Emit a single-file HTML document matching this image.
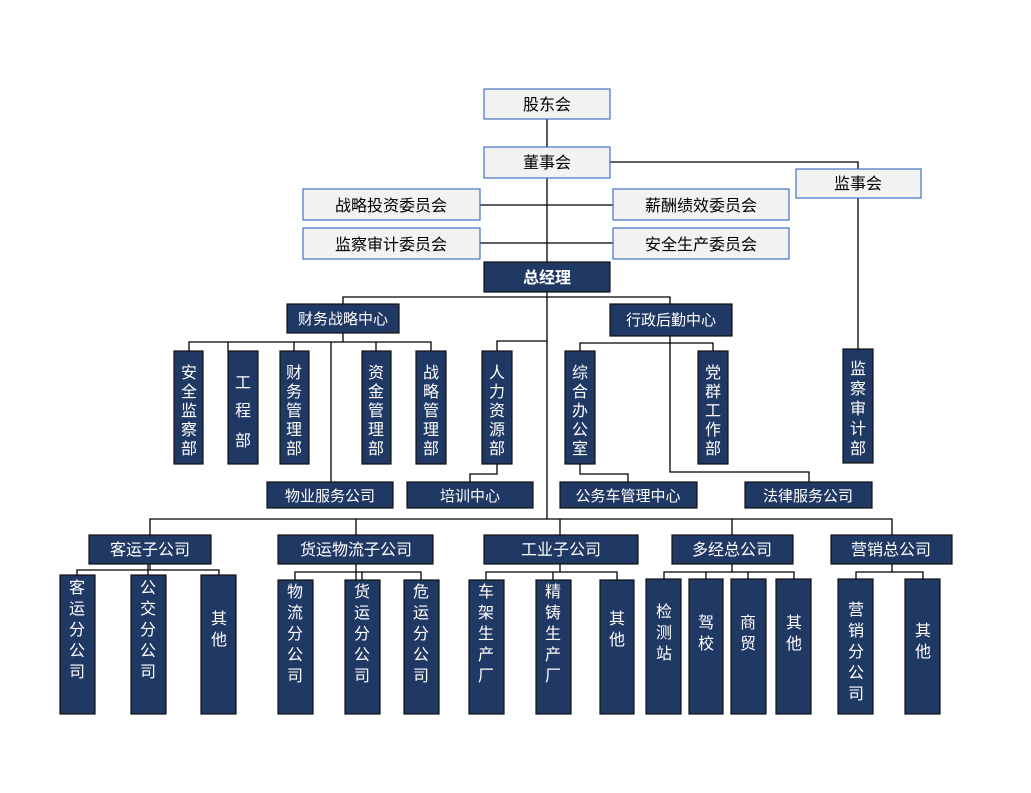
<!DOCTYPE html>
<html><head><meta charset="utf-8"><style>
body{margin:0;background:#fff}
svg{display:block}
text{font-family:"Liberation Sans","Noto Sans CJK SC","WenQuanYi Zen Hei",sans-serif;font-size:16px;fill:#fff;text-anchor:middle}
.lt text,text.d{fill:#000}
.n{fill:#203864;stroke:#111;stroke-width:1.2}
.w{fill:#f2f2f2;stroke:#4472c4;stroke-width:1.2}
.l{stroke:#000;stroke-width:1.3;fill:none}
</style></head><body>
<svg width="1031" height="793" viewBox="0 0 1031 793">
<!-- lines -->
<g class="l">
<path d="M547 119V519"/>
<path d="M610 162H858V169M858 198V349"/>
<path d="M480 205H613M480 243H613"/>
<path d="M343 304V297H670V304"/>
<path d="M189 351V342H431V351M228 342V351M294 342V351M376 342V351M343 333V342M331 342V482"/>
<path d="M497 351V341H547M497 464V474H470V482"/>
<path d="M580 351V343H713V351M670 336V472H809V482M580 464V474H628V482"/>
<path d="M150 535V519H892V535M356 519V535M560 519V535M732 519V535"/>
<path d="M77 575V570H219V575M148 564V575M150 564V570"/>
<path d="M295 580V572H421V580M356 564V580M362 572V580"/>
<path d="M486 580V572H617V580M560 564V572M553 572V580"/>
<path d="M664 579V572H794V579M732 564V572M706 572V579M748 572V579"/>
<path d="M856 579V572H923V579M892 564V572"/>
</g>
<!-- top light boxes -->
<rect class="w" x="484" y="89" width="126" height="30"/>
<rect class="w" x="484" y="147" width="126" height="31"/>
<rect class="w" x="796" y="169" width="125" height="29"/>
<rect class="w" x="303" y="189" width="177" height="31"/>
<rect class="w" x="613" y="189" width="176" height="31"/>
<rect class="w" x="303" y="228" width="177" height="31"/>
<rect class="w" x="613" y="228" width="176" height="31"/>
<g class="lt">
<text x="547" y="110">股东会</text>
<text x="547" y="168">董事会</text>
<text x="858" y="189">监事会</text>
<text x="391" y="211">战略投资委员会</text>
<text x="701" y="211">薪酬绩效委员会</text>
<text x="391" y="250">监察审计委员会</text>
<text x="701" y="250">安全生产委员会</text>
</g>
<rect class="n" x="484" y="262" width="126" height="30"/>
<text x="547" y="283" style="font-weight:bold">总经理</text>
<!-- mid navy -->
<rect class="n" x="287" y="304" width="112" height="29"/><text x="343" y="324" style="font-size:15px">财务战略中心</text>
<rect class="n" x="610" y="304" width="122" height="32"/><text x="671" y="325" style="font-size:15px">行政后勤中心</text>
<rect class="n" x="267" y="482" width="126" height="26"/><text x="330" y="501" style="font-size:15px">物业服务公司</text>
<rect class="n" x="407" y="482" width="126" height="26"/><text x="470" y="501" style="font-size:15px">培训中心</text>
<rect class="n" x="560" y="482" width="137" height="26"/><text x="628" y="501" style="font-size:15px">公务车管理中心</text>
<rect class="n" x="745" y="482" width="127" height="26"/><text x="808" y="501" style="font-size:15px">法律服务公司</text>
<!-- verticals upper -->
<rect class="n" x="174" y="351" width="29" height="113"/>
<text x="189" y="378"><tspan x="189">安</tspan><tspan x="189" dy="19">全</tspan><tspan x="189" dy="19">监</tspan><tspan x="189" dy="19">察</tspan><tspan x="189" dy="19">部</tspan></text>
<rect class="n" x="228" y="351" width="30" height="113"/>
<text x="243" y="388"><tspan x="243">工</tspan><tspan x="243" dy="28">程</tspan><tspan x="243" dy="30">部</tspan></text>
<rect class="n" x="280" y="351" width="29" height="113"/>
<text x="294" y="378"><tspan x="294">财</tspan><tspan x="294" dy="19">务</tspan><tspan x="294" dy="19">管</tspan><tspan x="294" dy="19">理</tspan><tspan x="294" dy="19">部</tspan></text>
<rect class="n" x="362" y="351" width="29" height="113"/>
<text x="376" y="378"><tspan x="376">资</tspan><tspan x="376" dy="19">金</tspan><tspan x="376" dy="19">管</tspan><tspan x="376" dy="19">理</tspan><tspan x="376" dy="19">部</tspan></text>
<rect class="n" x="416" y="351" width="30" height="113"/>
<text x="431" y="378"><tspan x="431">战</tspan><tspan x="431" dy="19">略</tspan><tspan x="431" dy="19">管</tspan><tspan x="431" dy="19">理</tspan><tspan x="431" dy="19">部</tspan></text>
<rect class="n" x="482" y="351" width="30" height="113"/>
<text x="497" y="378"><tspan x="497">人</tspan><tspan x="497" dy="19">力</tspan><tspan x="497" dy="19">资</tspan><tspan x="497" dy="19">源</tspan><tspan x="497" dy="19">部</tspan></text>
<rect class="n" x="565" y="351" width="30" height="113"/>
<text x="580" y="378"><tspan x="580">综</tspan><tspan x="580" dy="19">合</tspan><tspan x="580" dy="19">办</tspan><tspan x="580" dy="19">公</tspan><tspan x="580" dy="19">室</tspan></text>
<rect class="n" x="698" y="351" width="30" height="113"/>
<text x="713" y="378"><tspan x="713">党</tspan><tspan x="713" dy="19">群</tspan><tspan x="713" dy="19">工</tspan><tspan x="713" dy="19">作</tspan><tspan x="713" dy="19">部</tspan></text>
<rect class="n" x="843" y="349" width="30" height="114"/>
<text x="858" y="374"><tspan x="858">监</tspan><tspan x="858" dy="20">察</tspan><tspan x="858" dy="20">审</tspan><tspan x="858" dy="20">计</tspan><tspan x="858" dy="20">部</tspan></text>
<!-- subsidiaries -->
<rect class="n" x="89" y="535" width="122" height="29"/><text x="150" y="555">客运子公司</text>
<rect class="n" x="278" y="535" width="155" height="29"/><text x="356" y="555">货运物流子公司</text>
<rect class="n" x="484" y="535" width="154" height="29"/><text x="561" y="555">工业子公司</text>
<rect class="n" x="672" y="535" width="121" height="29"/><text x="732" y="555">多经总公司</text>
<rect class="n" x="831" y="535" width="121" height="29"/><text x="891" y="555">营销总公司</text>
<!-- bottom verticals -->
<g style="font-size:17px">
<rect class="n" x="60" y="575" width="35" height="139"/>
<text x="77" y="593"><tspan x="77">客</tspan><tspan x="77" dy="21">运</tspan><tspan x="77" dy="21">分</tspan><tspan x="77" dy="21">公</tspan><tspan x="77" dy="21">司</tspan></text>
<rect class="n" x="131" y="575" width="35" height="139"/>
<text x="148" y="593"><tspan x="148">公</tspan><tspan x="148" dy="21">交</tspan><tspan x="148" dy="21">分</tspan><tspan x="148" dy="21">公</tspan><tspan x="148" dy="21">司</tspan></text>
<rect class="n" x="201" y="575" width="35" height="139"/>
<text x="219" y="624"><tspan x="219">其</tspan><tspan x="219" dy="21">他</tspan></text>
<rect class="n" x="278" y="580" width="35" height="134"/>
<text x="295" y="597"><tspan x="295">物</tspan><tspan x="295" dy="21">流</tspan><tspan x="295" dy="21">分</tspan><tspan x="295" dy="21">公</tspan><tspan x="295" dy="21">司</tspan></text>
<rect class="n" x="345" y="580" width="35" height="134"/>
<text x="362" y="597"><tspan x="362">货</tspan><tspan x="362" dy="21">运</tspan><tspan x="362" dy="21">分</tspan><tspan x="362" dy="21">公</tspan><tspan x="362" dy="21">司</tspan></text>
<rect class="n" x="404" y="580" width="35" height="134"/>
<text x="421" y="597"><tspan x="421">危</tspan><tspan x="421" dy="21">运</tspan><tspan x="421" dy="21">分</tspan><tspan x="421" dy="21">公</tspan><tspan x="421" dy="21">司</tspan></text>
<rect class="n" x="469" y="580" width="35" height="134"/>
<text x="486" y="597"><tspan x="486">车</tspan><tspan x="486" dy="21">架</tspan><tspan x="486" dy="21">生</tspan><tspan x="486" dy="21">产</tspan><tspan x="486" dy="21">厂</tspan></text>
<rect class="n" x="536" y="580" width="35" height="134"/>
<text x="553" y="597"><tspan x="553">精</tspan><tspan x="553" dy="21">铸</tspan><tspan x="553" dy="21">生</tspan><tspan x="553" dy="21">产</tspan><tspan x="553" dy="21">厂</tspan></text>
<rect class="n" x="600" y="580" width="34" height="134"/>
<text x="617" y="624"><tspan x="617">其</tspan><tspan x="617" dy="21">他</tspan></text>
<rect class="n" x="646" y="579" width="35" height="135"/>
<text x="664" y="617"><tspan x="664">检</tspan><tspan x="664" dy="21">测</tspan><tspan x="664" dy="21">站</tspan></text>
<rect class="n" x="689" y="579" width="34" height="135"/>
<text x="706" y="628"><tspan x="706">驾</tspan><tspan x="706" dy="21">校</tspan></text>
<rect class="n" x="731" y="579" width="35" height="135"/>
<text x="748" y="628"><tspan x="748">商</tspan><tspan x="748" dy="21">贸</tspan></text>
<rect class="n" x="776" y="579" width="35" height="135"/>
<text x="794" y="628"><tspan x="794">其</tspan><tspan x="794" dy="21">他</tspan></text>
<rect class="n" x="838" y="579" width="35" height="135"/>
<text x="856" y="615"><tspan x="856">营</tspan><tspan x="856" dy="21">销</tspan><tspan x="856" dy="21">分</tspan><tspan x="856" dy="21">公</tspan><tspan x="856" dy="21">司</tspan></text>
<rect class="n" x="905" y="579" width="35" height="135"/>
<text x="923" y="636"><tspan x="923">其</tspan><tspan x="923" dy="21">他</tspan></text>
</g>
</svg>
</body></html>
